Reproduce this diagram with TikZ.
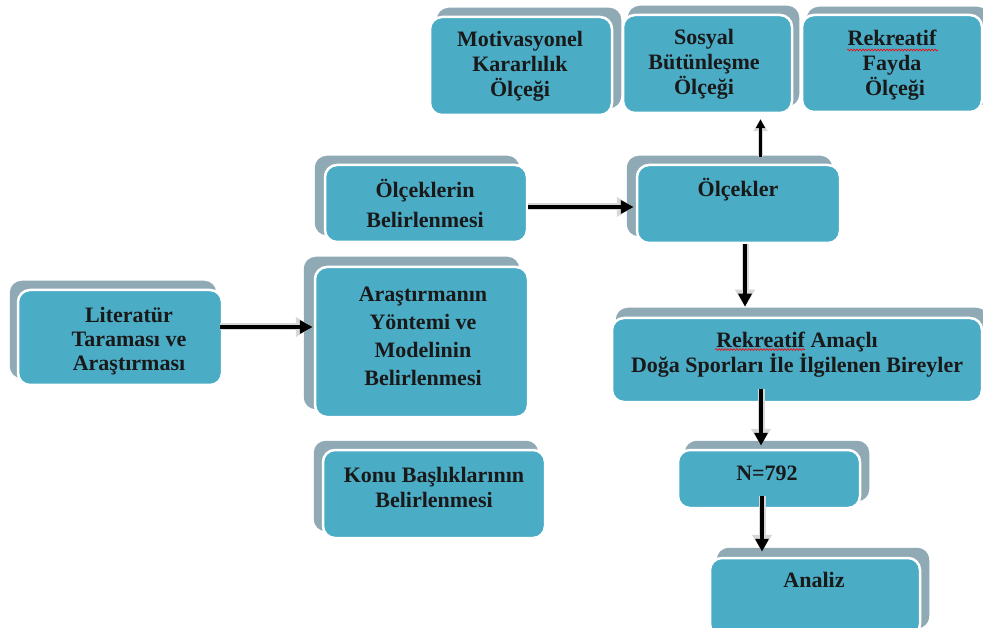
\documentclass[tikz,border=0pt]{standalone}
\usepackage{fontspec}
\setmainfont{Liberation Serif}
\usetikzlibrary{arrows.meta,decorations.pathmorphing}
\definecolor{tealfill}{RGB}{75,172,198}
\definecolor{backgray}{RGB}{143,170,180}
\definecolor{arrowedge}{RGB}{215,215,215}
\pgfdeclarelayer{bg}
\pgfsetlayers{bg,main}
\tikzset{
  frontbox/.style={draw=white, line width=2.5pt, fill=tealfill, rounded corners=12pt, inner sep=0pt},
  backbox/.style={fill=backgray, rounded corners=12pt},
  txt/.style={font=\fontsize{22}{#1}\selectfont\bfseries, align=center, inner sep=0pt, text=black!90},
  txt/.default=25,
  arr/.style={line width=3.8pt, black, -{Triangle[length=13pt,width=13pt]},
    preaction={draw=arrowedge, line width=7pt, -{Triangle[length=17pt,width=19pt]}}},
  smallarr/.style={line width=3pt, black, -{Triangle[length=9pt,width=9pt]},
    preaction={draw=arrowedge, line width=5.5pt, -{Triangle[length=12pt,width=14pt]}}},
  squig/.style={red, line width=0.6pt, decorate, decoration={snake, amplitude=0.9pt, segment length=3pt}}
}
\begin{document}
\begin{tikzpicture}[x=1pt, y=-1pt]
\useasboundingbox (0,0) rectangle (983,628);

% front boxes
\node[frontbox, minimum width=182pt, minimum height=98pt] (mot) at (521,66) {};
\node[frontbox, minimum width=169pt, minimum height=98pt] (sos) at (707.5,64) {};
\node[frontbox, minimum width=180pt, minimum height=97pt] (rek) at (892,63.5) {};
\node[frontbox, minimum width=202pt, minimum height=77pt] (olb) at (426,203.5) {};
\node[frontbox, minimum width=203pt, minimum height=78pt] (olc) at (738.5,204) {};
\node[frontbox, minimum width=204pt, minimum height=95pt] (lit) at (120,337.5) {};
\node[frontbox, minimum width=213pt, minimum height=150pt] (ara) at (421.5,342) {};
\node[frontbox, minimum width=222pt, minimum height=88pt] (konu) at (434,494) {};
\node[frontbox, minimum width=370pt, minimum height=84pt] (ram) at (797,360) {};
\node[frontbox, minimum width=182pt, minimum height=58pt] (nbox) at (769,479) {};
\node[frontbox, minimum width=210pt, minimum height=78pt] (ana) at (815,597) {};

% back (offset) boxes
\begin{pgfonlayer}{bg}
\fill[backbox] ([shift={(8,-8)}]mot.north west) rectangle ([shift={(8,-8)}]mot.south east);
\fill[backbox] ([shift={(6,-8)}]sos.north west) rectangle ([shift={(6,-8)}]sos.south east);
\fill[backbox] ([shift={(6,-7)}]rek.north west) rectangle ([shift={(6,-7)}]rek.south east);
\fill[backbox] ([shift={(-9,-8)}]olb.north west) rectangle ([shift={(-9,-8)}]olb.south east);
\fill[backbox] ([shift={(-9,-8)}]olc.north west) rectangle ([shift={(-9,-8)}]olc.south east);
\fill[backbox] ([shift={(-7,-8)}]lit.north west) rectangle ([shift={(-7,-8)}]lit.south east);
\fill[backbox] ([shift={(-10,-9)}]ara.north west) rectangle ([shift={(-10,-9)}]ara.south east);
\fill[backbox] ([shift={(-8,-8)}]konu.north west) rectangle ([shift={(-8,-8)}]konu.south east);
\fill[backbox] ([shift={(5,-9)}]ram.north west) rectangle ([shift={(5,-9)}]ram.south east);
\fill[backbox] ([shift={(8,-8)}]nbox.north west) rectangle ([shift={(8,-8)}]nbox.south east);
\fill[backbox] ([shift={(8,-9)}]ana.north west) rectangle ([shift={(8,-9)}]ana.south east);
\end{pgfonlayer}

% texts
\node[txt] (motT) at (520,66) {Motivasyonel\\Kararlılık\\Ölçeği};
\node[txt] (sosT) at (704,64.5) {Sosyal\\Bütünleşme\\Ölçeği};
\node[txt] (rekT) at (892,65) {Rekreatif\\Fayda\\\hspace*{6pt}Ölçeği};
\node[txt=30] (olbT) at (425,203) {Ölçeklerin\\Belirlenmesi};
\node[txt] (olcT) at (738,190) {Ölçekler};
\node[txt=24] (litT) at (129,341) {Literatür\\Taraması ve\\Araştırması};
\node[txt=28] (araT) at (423,336) {Araştırmanın\\Yöntemi ve\\Modelinin\\Belirlenmesi};
\node[txt] (konuT) at (434,487.5) {Konu Başlıklarının\\Belirlenmesi};
\node[txt] (ramT) at (797,354.5) {Rekreatif Amaçlı\\Doğa Sporları İle İlgilenen Bireyler};
\node[txt] (nT) at (767,473) {N=792};
\node[txt] (anaT) at (814,580) {Analiz};

% spell-check squiggles
\draw[squig] ([shift={(-45,-15)}]rekT.center) -- ([shift={(46,-15)}]rekT.center);
\draw[squig] ([shift={(-82,-5)}]ramT.center) -- ([shift={(8,-5)}]ramT.center);

% arrows
\draw[arr] ([shift={(-3,-10.5)}]lit.east) -- ([shift={(-1,-15)}]ara.west);
\draw[arr] ([shift={(0,3.5)}]olb.east) -- ([shift={(-2,3)}]olc.west);
\draw[arr] ([shift={(6.5,0)}]olc.south) -- ([shift={(-52,-10)}]ram.north);
\draw[arr] ([shift={(-36,-14)}]ram.south) -- ([shift={(-8,-3)}]nbox.north);
\draw[arr] ([shift={(-7,-13)}]nbox.south) -- ([shift={(-53,-5)}]ana.north);
\draw[smallarr] ([shift={(22,-7)}]olc.north) -- ([shift={(53,5)}]sos.south);
\end{tikzpicture}
\end{document}
